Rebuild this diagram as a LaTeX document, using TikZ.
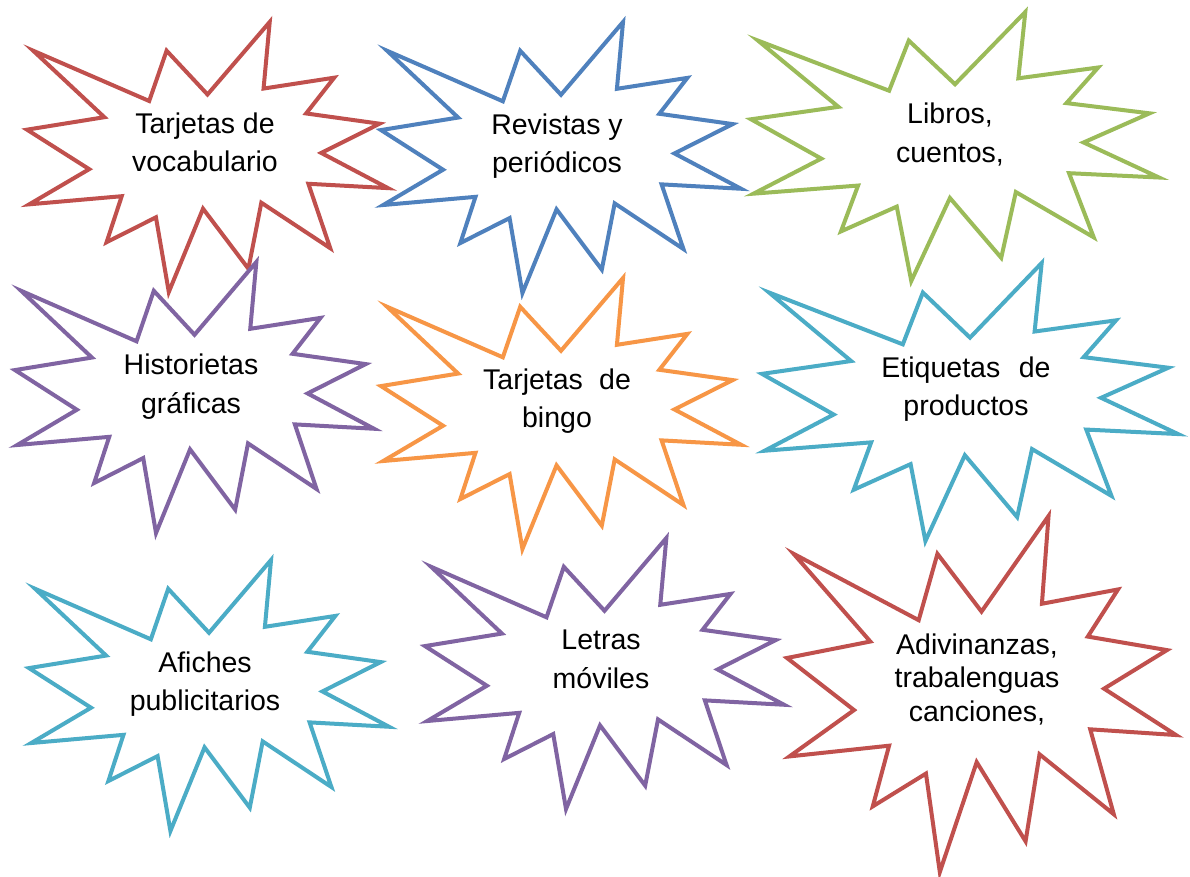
\documentclass[tikz,border=0pt]{standalone}
\usepackage{fontspec}
\setmainfont{Liberation Sans}
\definecolor{rojo}{HTML}{C0504D}
\definecolor{azul}{HTML}{4F81BD}
\definecolor{verde}{HTML}{9BBB59}
\definecolor{morado}{HTML}{8064A2}
\definecolor{celeste}{HTML}{4BACC6}
\definecolor{naranja}{HTML}{F79646}
\tikzset{
  borde/.style={draw,line width=4pt,fill=white},
  rotulo/.style={align=center,anchor=base,font=\fontsize{28.5}{38}\selectfont},
  estallido/.pic={
    \path[borde,pic actions] (50,26.85) -- (67.23,0) -- (65.53,24.65) -- (85.09,20.63)
      -- (77.32,33.87) -- (97.67,37.67) -- (81.51,48.50) -- (100,61.53)
      -- (77.95,59.92) -- (84.00,83.77) -- (64.91,66.93) -- (61.33,91.38)
      -- (48.76,69.14) -- (39.28,100) -- (35.72,72.35) -- (22.05,81.56)
      -- (26.24,64.52) -- (0.63,67.53) -- (17.23,54.51) -- (0,39.88)
      -- (21.42,35.26) -- (1.71,10.63) -- (33.85,29.26) -- (38.67,10.63) -- cycle;
  },
}
\begin{document}
\begin{tikzpicture}[x=1pt,y=-1pt]
  \path[fill=white,use as bounding box] (0,0) rectangle (1190,877);
  % 1. vocabulario
  \pic[draw=rojo,shift={(27,22)},xscale=3.61,yscale=2.70] {estallido};
  \node[rotulo] (vocabulario) at (205,172) {Tarjetas de\\vocabulario};
  % 2. revistas
  \pic[draw=azul,shift={(381,22)},xscale=3.60,yscale=2.71] {estallido};
  \node[rotulo] (revistas) at (557,173) {Revistas y\\periódicos};
  % 3. libros
  \pic[draw=verde,shift={(751,12)},xscale=4.08,yscale=2.69] {estallido};
  \node[rotulo,font=\fontsize{28.5}{39}\selectfont] (libros) at (950,163) {Libros,\\cuentos,};
  % 4. historietas
  \pic[draw=morado,shift={(15,262)},xscale=3.59,yscale=2.71] {estallido};
  \node[rotulo,font=\fontsize{28.5}{39}\selectfont] (historietas) at (191,413) {Historietas\\gráficas};
  % 5. bingo
  \pic[draw=naranja,shift={(381,278)},xscale=3.60,yscale=2.71] {estallido};
  \node[rotulo] (bingo) at (557,427) {Tarjetas\hspace{0.57em}de\\bingo};
  % 6. etiquetas
  \pic[draw=celeste,shift={(762,263)},xscale=4.16,yscale=2.78] {estallido};
  \node[rotulo] (etiquetas) at (966,415) {Etiquetas\hspace{0.65em}de\\productos};
  % 7. afiches
  \pic[draw=celeste,shift={(29,560)},xscale=3.60,yscale=2.71] {estallido};
  \node[rotulo] (afiches) at (205,710) {Afiches\\publicitarios};
  % 8. letras
  \pic[draw=morado,shift={(425,538)},xscale=3.59,yscale=2.71] {estallido};
  \node[rotulo,font=\fontsize{28.5}{39}\selectfont] (letras) at (601,688) {Letras\\móviles};
  % 9. adivinanzas
  \pic[draw=rojo,shift={(787,516)},xscale=3.89,yscale=3.56] {estallido};
  \node[rotulo,font=\fontsize{28.5}{33.5}\selectfont] (adivinanzas) at (977,721) {Adivinanzas,\\trabalenguas\\canciones,};
\end{tikzpicture}
\end{document}
